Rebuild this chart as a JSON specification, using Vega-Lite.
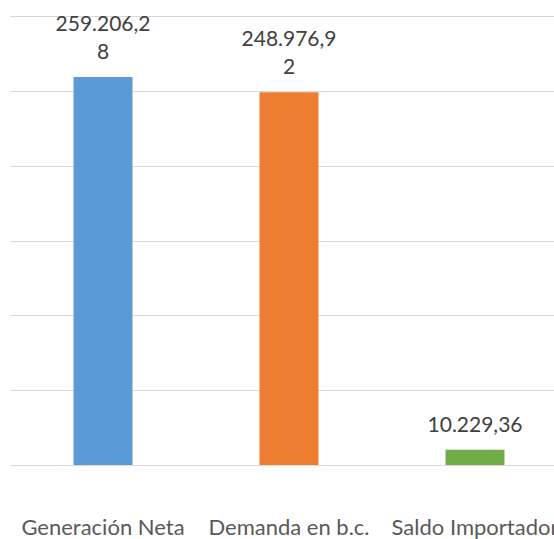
{
  "$schema": "https://vega.github.io/schema/vega-lite/v6.json",
  "autosize": {"type": "none"},
  "padding": {"left": 10, "top": 16, "right": 0, "bottom": 74},
  "width": 558,
  "height": 449,
  "background": "white",
  "config": {"view": {"stroke": null}, "font": "Lato"},
  "data": {
    "values": [
      {"categoria": "Generación Neta", "valor": 259206.28, "linea_sup": "259.206,2", "linea_fin": "8"},
      {"categoria": "Demanda en b.c.", "valor": 248976.92, "linea_sup": "248.976,9", "linea_fin": "2"},
      {"categoria": "Saldo Importador", "valor": 10229.36, "linea_sup": "", "linea_fin": "10.229,36"}
    ]
  },
  "encoding": {
    "x": {
      "field": "categoria",
      "type": "nominal",
      "sort": null,
      "scale": {"paddingInner": 0.683, "paddingOuter": 0.3415},
      "axis": {
        "title": null,
        "labelAngle": 0,
        "ticks": false,
        "tickSize": 0,
        "domain": false,
        "labelPadding": 69,
        "labelBaseline": "alphabetic",
        "labelFont": "Lato",
        "labelFontSize": 22,
        "labelColor": "#595959",
        "labelLimit": 0,
        "labelOverlap": false
      }
    },
    "y": {
      "field": "valor",
      "type": "quantitative",
      "scale": {"domain": [0, 300000], "nice": false},
      "axis": {
        "title": null,
        "labels": false,
        "ticks": false,
        "domain": false,
        "grid": true,
        "gridColor": "#d9d9d9",
        "gridWidth": 1.2,
        "values": [0, 50000, 100000, 150000, 200000, 250000, 300000]
      }
    }
  },
  "layer": [
    {
      "mark": {"type": "bar"},
      "encoding": {
        "color": {
          "field": "categoria",
          "type": "nominal",
          "sort": null,
          "scale": {
            "domain": ["Generación Neta", "Demanda en b.c.", "Saldo Importador"],
            "range": ["#5B9BD5", "#ED7D31", "#70AD47"]
          },
          "legend": null
        }
      }
    },
    {
      "mark": {
        "type": "text",
        "baseline": "alphabetic",
        "align": "center",
        "dy": -18,
        "font": "Lato",
        "fontSize": 21,
        "color": "#404040"
      },
      "encoding": {"text": {"field": "linea_fin"}}
    },
    {
      "mark": {
        "type": "text",
        "baseline": "alphabetic",
        "align": "center",
        "dy": -46,
        "font": "Lato",
        "fontSize": 21,
        "color": "#404040"
      },
      "encoding": {"text": {"field": "linea_sup"}}
    }
  ]
}
